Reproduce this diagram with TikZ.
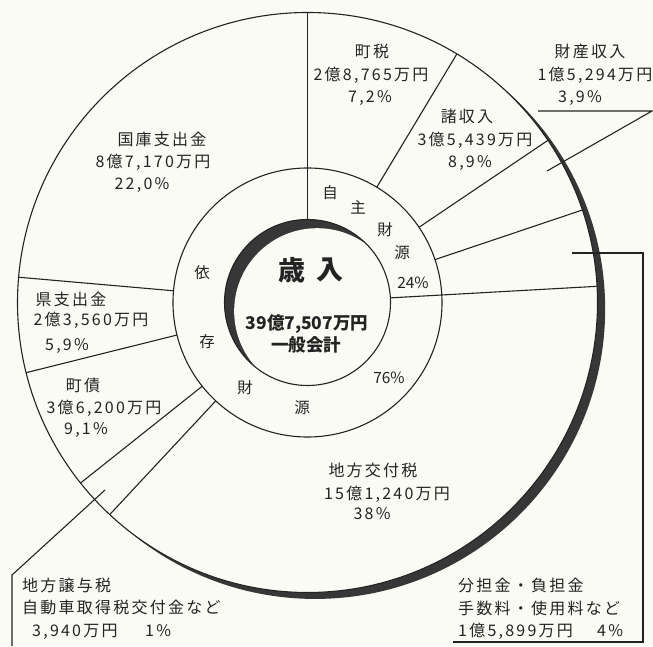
\documentclass[tikz,border=0pt]{standalone}
\usepackage{fontspec}
\setmainfont{Noto Sans CJK JP}
\newfontfamily\jp[LetterSpace=14]{Noto Sans CJK JP}
\usetikzlibrary{calc}
\definecolor{bg}{RGB}{251,251,246}
\definecolor{ink}{RGB}{35,35,35}
\definecolor{shd}{RGB}{55,55,55}
\begin{document}
\begin{tikzpicture}[x=1pt,y=1pt,
  ln/.style={line width=1.1pt, draw=ink},
  lbl/.style={font=\jp\fontsize{16}{16}\selectfont, text=ink, inner sep=0pt, text height=14pt, text depth=2pt},
  ring/.style={font=\fontsize{15.5}{15.5}\selectfont, text=ink, inner sep=0pt, text height=13.5pt, text depth=2pt},
  big/.style={font=\bfseries\fontsize{27}{27}\selectfont, text=ink, inner sep=0pt},
  mid/.style={font=\bfseries\fontsize{17.5}{17.5}\selectfont, text=ink, inner sep=0pt, text height=15pt, text depth=2pt}]
\useasboundingbox (0,0) rectangle (653,646);
\fill[bg] (0,0) rectangle (653,646);
\coordinate (C) at (307.5,343.5);
% outer circle with shadow
\fill[shd] ($(C)+(-40:10)$) circle (290);
\fill[bg] (C) circle (290);
\draw[ln] (C) circle (290);
\draw[ln] (C) circle (134.5);
% inner circle with inner shadow
\begin{scope}
  \clip (C) circle (83);
  \fill[shd] (C) circle (83);
  \fill[bg] ($(C)+(-42:13)$) circle (83);
\end{scope}
\draw[ln] (C) circle (83);
% radial boundaries
\foreach \a/\r [count=\i] in {90/83, 59/134.5, 34/134.5, 18.6/134.5, 3.2/83, 175/134.5, 194/134.5, 218.5/134.5, 227/134.5} {
  \coordinate (s\i) at ($(C)+(\a:\r)$);
  \coordinate (e\i) at ($(C)+(\a:290)$);
  \draw[ln] (s\i) -- (e\i);
}
% leader lines
\coordinate (z1) at (538,535);
\coordinate (z2) at (652,535);
\coordinate (z3) at (547,475);
\draw[ln] (z1) -- (z2) -- (z3);
\coordinate (b1) at (572,393);
\coordinate (b2) at (643,393);
\coordinate (b3) at (643,4);
\coordinate (b4) at (453,4);
\draw[ln] (b1) -- (b2) -- (b3) -- (b4);
\coordinate (c1) at (105,156);
\coordinate (c2) at (12,71);
\coordinate (c3) at (12,0);
\draw[ln] (c1) -- (c2) -- (c3);
% centre
\node[big] (sai) at (292,376) {歳};
\node[big] (nyu) at (330,376) {入};
\node[mid] (tot) at (307,323) {39億7,507万円};
\node[mid] (ippan) at (306,301) {一般会計};
% ring labels
\node[ring] (r1) at (330,453) {自};
\node[ring] (r2) at (358,438) {主};
\node[ring] (r3) at (385,416) {財};
\node[ring] (r4) at (402,393) {源};
\node[ring] (r5) at (413,363) {24\%};
\node[ring] (r6) at (202,373) {依};
\node[ring] (r7) at (207,304) {存};
\node[ring] (r8) at (245,258) {財};
\node[ring] (r9) at (302,238) {源};
\node[ring] (r10) at (389,268) {76\%};
% slice labels
\node[lbl] (m1) at (372,594) {町税};
\node[lbl] (m2) at (371,571) {2億8,765万円};
\node[lbl] (m3) at (370,549) {7,2\%};
\node[lbl] (n1) at (467,529) {諸収入};
\node[lbl] (n2) at (475,506) {3億5,439万円};
\node[lbl] (n3) at (470,484) {8,9\%};
\node[lbl] (p1) at (590,594) {財産収入};
\node[lbl] (p2) at (595,571) {1億5,294万円};
\node[lbl] (p3) at (580,549) {3,9\%};
\node[lbl] (k1) at (162,506) {国庫支出金};
\node[lbl] (k2) at (153,484) {8億7,170万円};
\node[lbl] (k3) at (142,462) {22,0\%};
\node[lbl] (q1) at (71,346) {県支出金};
\node[lbl] (q2) at (91,326) {2億3,560万円};
\node[lbl] (q3) at (67,301) {5,9\%};
\node[lbl] (d1) at (83,261) {町債};
\node[lbl] (d2) at (104,239) {3億6,200万円};
\node[lbl] (d3) at (86,218) {9,1\%};
\node[lbl] (f1) at (373,176) {地方交付税};
\node[lbl] (f2) at (387,153) {15億1,240万円};
\node[lbl] (f3) at (372,133) {38\%};
\node[lbl, anchor=west] (g1) at (22,61) {地方譲与税};
\node[lbl, anchor=west] (g2) at (22,39) {自動車取得税交付金など};
\node[lbl, anchor=west] (g3) at (32,16) {3,940万円};
\node[lbl, anchor=west] (g4) at (145,16) {1\%};
\node[lbl, anchor=west] (h1) at (458,61) {分担金・負担金};
\node[lbl, anchor=west] (h2) at (458,38) {手数料・使用料など};
\node[lbl, anchor=west] (h3) at (458,16) {1億5,899万円};
\node[lbl, anchor=west] (h4) at (597,16) {4\%};
\end{tikzpicture}
\end{document}
